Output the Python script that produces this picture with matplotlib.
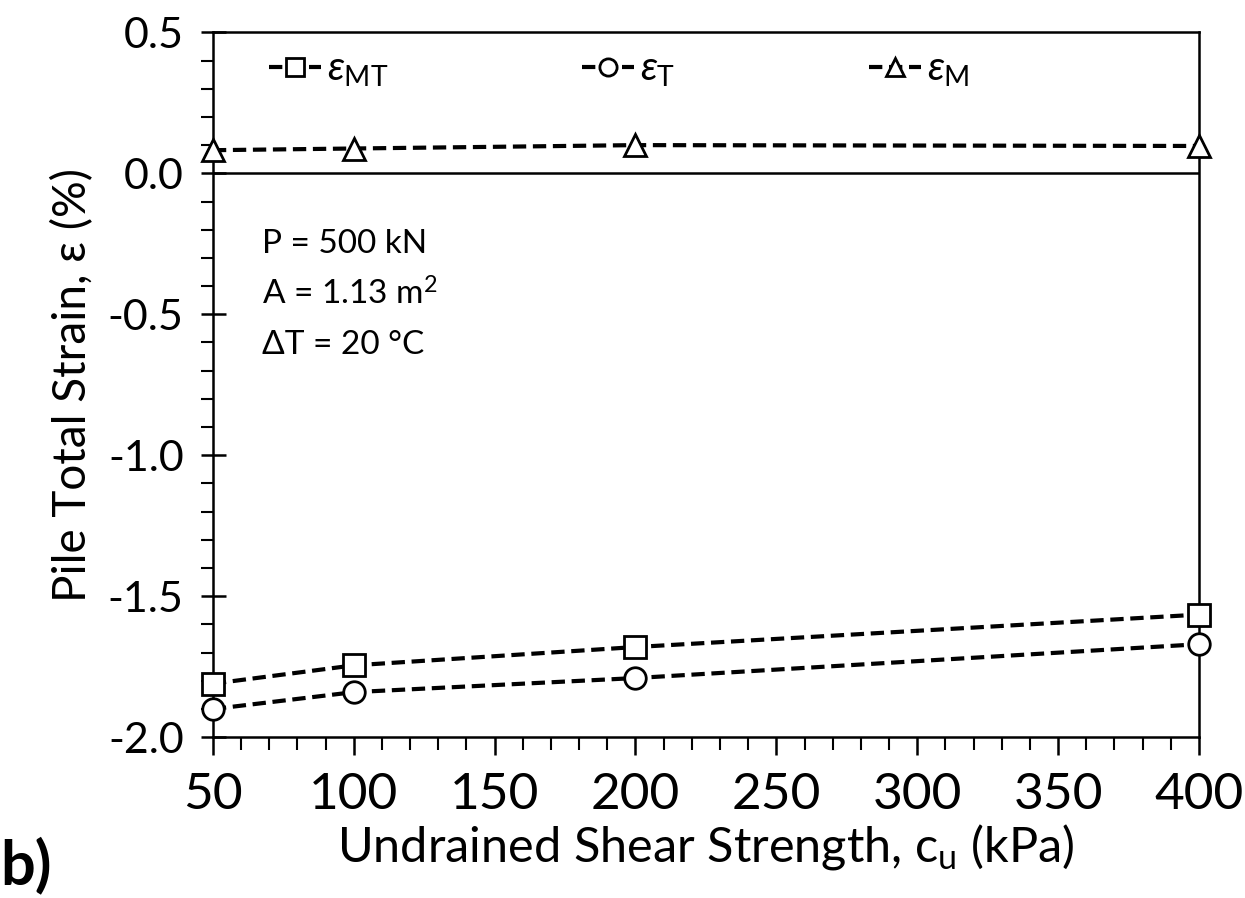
import numpy as np
import matplotlib
matplotlib.use("Agg")
import matplotlib.pyplot as plt
from matplotlib.ticker import MultipleLocator, FormatStrFormatter

# Data
cu = [50, 100, 200, 400]
eps_MT = [-1.81, -1.745, -1.68, -1.565]
eps_T = [-1.90, -1.84, -1.79, -1.67]
eps_M = [0.082, 0.088, 0.10, 0.097]

labels = [r'$\varepsilon_{\rm MT}$', r'$\varepsilon_{\rm T}$', r'$\varepsilon_{\rm M}$']
notes = ['P = 500 kN', 'A = 1.13 m$^2$', '\u0394T = 20 \u00b0C']

plt.rcParams['font.family'] = ['Lato', 'DejaVu Sans']
plt.rcParams['mathtext.fontset'] = 'custom'
plt.rcParams['mathtext.rm'] = 'Lato'
plt.rcParams['mathtext.it'] = 'Lato:italic'

fig = plt.figure(figsize=(12.45, 8.98), dpi=100)
ax = fig.add_axes([0.171, 0.179, 0.792, 0.785])

style = dict(color='black', linestyle=(0, (3.2, 1.6)), linewidth=3.0, markersize=15.5,
             markerfacecolor='white', markeredgecolor='black', markeredgewidth=2.0,
             clip_on=False, zorder=3)
ax.plot(cu, eps_MT, marker='s', label=labels[0], **style)
ax.plot(cu, eps_T, marker='o', label=labels[1], **style)
ax.plot(cu, eps_M, marker='^', label=labels[2], **style)

ax.axhline(0, color='black', linewidth=1.8, zorder=2)

ax.set_xlim(50, 400)
ax.set_ylim(-2.0, 0.5)
ax.xaxis.set_major_locator(MultipleLocator(50))
ax.xaxis.set_minor_locator(MultipleLocator(10))
ax.yaxis.set_major_locator(MultipleLocator(0.5))
ax.yaxis.set_minor_locator(MultipleLocator(0.1))
ax.yaxis.set_major_formatter(FormatStrFormatter('%.1f'))
ax.tick_params(axis='y', which='major', direction='inout', length=18, width=1.8,
               labelsize=31, pad=12)
ax.tick_params(axis='x', which='major', direction='out', length=13, width=1.8,
               labelsize=37, pad=12)
ax.tick_params(axis='both', which='minor', direction='out', length=9, width=1.5)
for s in ax.spines.values():
    s.set_linewidth(1.8)

ax.set_xlabel('Undrained Shear Strength, c$_{\\rm u}$ (kPa)', fontsize=35, labelpad=3)
ax.set_ylabel('Pile Total Strain, \u03b5 (%)', fontsize=33, labelpad=10)

ax.legend(loc='upper left', bbox_to_anchor=(0.02, 1.025), ncol=3, frameon=False,
          fontsize=29, handlelength=1.3, handletextpad=0.15, columnspacing=4.8,
          markerscale=0.8)

for i, t in enumerate(notes):
    ax.text(0.05, 0.70 - i * 0.072, t, transform=ax.transAxes, fontsize=24,
            va='center', ha='left')

fig.text(0.0, 0.004, 'b)', fontsize=44, fontweight='bold', ha='left', va='bottom')

fig.savefig('out.png', dpi=100)
